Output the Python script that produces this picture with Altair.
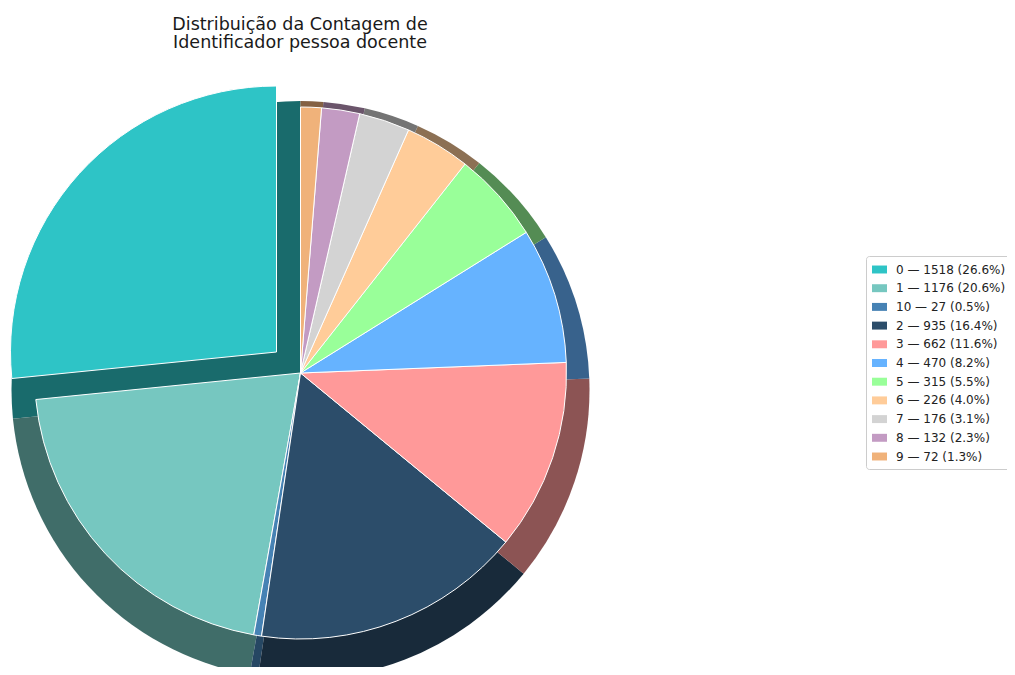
import altair as alt
import pandas as pd

labels = ["0", "1", "10", "2", "3", "4", "5", "6", "7", "8", "9"]
values = [1518, 1176, 27, 935, 662, 470, 315, 226, 176, 132, 72]
colors = ["#2EC4C6", "#76C7C0", "#4682B4", "#2C4D6A", "#FF9999", "#66B3FF",
          "#99FF99", "#FFCC99", "#D3D3D3", "#C39BC3", "#F0B27A"]
title_lines = ["Distribuição da Contagem de", "Identificador pessoa docente"]

total = sum(values)
legend_labels = [f"{l} — {v} ({v / total * 100:.1f}%)" for l, v in zip(labels, values)]


def darken(hex_color, f=0.55):
    h = hex_color.lstrip("#")
    r, g, b = (int(h[i:i + 2], 16) for i in (0, 2, 4))
    return "#{:02x}{:02x}{:02x}".format(int(r * f), int(g * f), int(b * f))


df = pd.DataFrame({
    "idx": list(range(len(labels))),
    "label": labels,
    "value": values,
    "legend": legend_labels,
    "shadow": [darken(c) for c in colors],
})

CX, CY = 292.5, 365
R = 266
SX, SY, SR = 292.5, 382, 289
EX, EY = 268.5, 344

base = (
    alt.Chart(df)
    .transform_joinaggregate(total="sum(value)")
    .transform_window(cum="sum(value)", sort=[alt.SortField("idx", order="descending")],
                      frame=[None, 0])
    .transform_calculate(a1="datum.cum / datum.total * 2 * PI",
                         a0="(datum.cum - datum.value) / datum.total * 2 * PI")
)

theta = alt.Theta("a0:Q", scale=None)
color = alt.Color("legend:N", scale=alt.Scale(domain=legend_labels, range=colors), title=None)

shadow = base.mark_arc(radius=SR).encode(
    theta=theta, theta2="a1:Q",
    fill=alt.Fill("shadow:N", scale=None),
    x=alt.value(SX), y=alt.value(SY),
)

main = base.transform_filter("datum.idx != 0").mark_arc(
    radius=R, stroke="white", strokeWidth=1
).encode(theta=theta, theta2="a1:Q", color=color, x=alt.value(CX), y=alt.value(CY))

exploded = base.transform_filter("datum.idx == 0").mark_arc(
    radius=R, stroke="white", strokeWidth=1
).encode(theta=theta, theta2="a1:Q", color=color, x=alt.value(EX), y=alt.value(EY))

title = alt.Chart(alt.Data(values=[{}])).mark_text(
    text=title_lines, font="DejaVu Sans", fontSize=17.5, lineHeight=18.5,
    align="center", baseline="alphabetic", color="#1a1a1a"
).encode(x=alt.value(292), y=alt.value(21.5))

chart = (
    alt.layer(shadow, main, exploded, title)
    .properties(width=999, height=659, padding=0, autosize=alt.AutoSizeParams(type="none"))
    .configure_view(stroke=None)
    .configure_legend(
        orient="none", legendX=858, legendY=248,
        strokeColor="#cccccc", fillColor="white", cornerRadius=3, padding=6,
        labelFont="DejaVu Sans", labelFontSize=12, labelColor="#222222", labelOffset=9,
        labelLimit=200,
        symbolType="M-1,-0.53H1V0.53H-1Z", symbolSize=225, symbolStrokeWidth=0,
        symbolOpacity=1, rowPadding=4.7,
    )
)

chart.save("out.html", embed_options={"renderer": "svg", "actions": False})
